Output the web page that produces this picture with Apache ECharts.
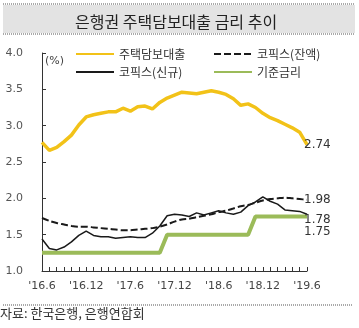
<!DOCTYPE html>
<html><head><meta charset="utf-8">
<script src="https://cdn.jsdelivr.net/npm/echarts@6/dist/echarts.min.js"></script>
<style>html,body{margin:0;padding:0;background:#fff}#c{width:359px;height:328px}</style>
</head><body><div id="c"></div>
<script>
var months = ['16.6','16.7','16.8','16.9','16.10','16.11','16.12','17.1','17.2','17.3','17.4','17.5','17.6','17.7','17.8','17.9','17.10','17.11','17.12','18.1','18.2','18.3','18.4','18.5','18.6','18.7','18.8','18.9','18.10','18.11','18.12','19.1','19.2','19.3','19.4','19.5','19.6'];
var mortgage = [2.77,2.66,2.70,2.78,2.87,3.01,3.12,3.15,3.17,3.19,3.19,3.24,3.20,3.26,3.27,3.23,3.32,3.38,3.42,3.46,3.45,3.44,3.46,3.48,3.46,3.43,3.37,3.28,3.30,3.25,3.17,3.11,3.07,3.02,2.97,2.91,2.74];
var cofixNew = [1.44,1.31,1.29,1.33,1.40,1.49,1.55,1.49,1.47,1.47,1.45,1.46,1.47,1.46,1.46,1.52,1.62,1.76,1.78,1.77,1.75,1.80,1.77,1.80,1.83,1.80,1.78,1.81,1.90,1.95,2.02,1.96,1.92,1.84,1.83,1.82,1.78];
var cofixBal = [1.73,1.69,1.66,1.64,1.62,1.61,1.61,1.60,1.59,1.58,1.57,1.56,1.56,1.57,1.58,1.59,1.61,1.64,1.68,1.71,1.72,1.74,1.76,1.78,1.81,1.83,1.86,1.89,1.91,1.94,1.97,1.99,2.00,2.01,2.00,1.99,1.98];
var baseRate = [1.25,1.25,1.25,1.25,1.25,1.25,1.25,1.25,1.25,1.25,1.25,1.25,1.25,1.25,1.25,1.25,1.25,1.50,1.50,1.50,1.50,1.50,1.50,1.50,1.50,1.50,1.50,1.50,1.50,1.75,1.75,1.75,1.75,1.75,1.75,1.75,1.75];
var yTicks = {min:1.0, max:4.0, step:0.5};
var names = ['주택담보대출','코픽스(신규)','코픽스(잔액)','기준금리'];
var titleText = '은행권 주택담보대출 금리 추이';
var sourceText = '자료: 한국은행, 은행연합회';
var unitText = '(%)';

var chart = echarts.init(document.getElementById('c'), null, {renderer:'canvas'});
var numFont = 'DejaVu Sans';
var krFont = '"Noto Sans CJK KR", sans-serif';
function endLbl(dx, dy){
  return {show:true, distance:0, offset:[dx,dy], color:'#333', fontFamily:numFont, fontSize:12,
    formatter:function(p){return p.value.toFixed(2);}};
}
var legendCommon = {orient:'vertical', top:43, itemWidth:38, itemHeight:14, itemGap:6,
  itemStyle:{opacity:0}, textStyle:{fontFamily:krFont, fontSize:12, color:'#333'}};
chart.setOption({
  animation:false,
  title:{text:titleText, left:70, top:7, textStyle:{fontFamily:krFont, fontSize:16, fontWeight:'normal', color:'#222', lineHeight:20}},
  graphic:[
    {type:'rect', z:-1, shape:{x:3,y:5,width:352,height:28}, style:{fill:'#E3E3E3'}},
    {type:'line', shape:{x1:3,y1:4,x2:355,y2:4}, style:{stroke:'#555', lineWidth:1, lineDash:[1,1]}},
    {type:'line', shape:{x1:3,y1:34,x2:355,y2:34}, style:{stroke:'#555', lineWidth:1, lineDash:[1,1]}},
    {type:'line', shape:{x1:3,y1:305,x2:353,y2:305}, style:{stroke:'#555', lineWidth:1, lineDash:[1,1]}},
    {type:'text', left:0, top:307, style:{text:sourceText, fontFamily:krFont, fontSize:13, fill:'#333'}},
    {type:'text', left:45, top:56, style:{text:unitText, fontFamily:numFont, fontSize:11, fill:'#444'}}
  ],
  legend:[
    Object.assign({data:[names[0],names[1]], left:70}, legendCommon),
    Object.assign({data:[names[2],names[3]], left:208}, legendCommon)
  ],
  grid:{left:42, right:52, top:53, bottom:57, containLabel:false},
  xAxis:{type:'category', data:months, boundaryGap:false,
    axisLine:{lineStyle:{color:'#333', width:1}},
    axisTick:{inside:true, length:4, interval:0, lineStyle:{color:'#333'}},
    axisLabel:{interval:5, margin:10, color:'#444', fontFamily:numFont, fontSize:11, formatter:function(v){return "'"+v;}}
  },
  yAxis:{type:'value', min:yTicks.min, max:yTicks.max, interval:yTicks.step,
    splitLine:{show:false},
    axisLine:{show:true, lineStyle:{color:'#333', width:1}},
    axisTick:{show:true, inside:true, length:4, lineStyle:{color:'#333'}},
    axisLabel:{margin:19, color:'#555', fontFamily:numFont, fontSize:11, formatter:function(v){return v.toFixed(1);}}
  },
  series:[
    {name:names[0], type:'line', data:mortgage, symbol:'none', lineStyle:{color:'#F2C218', width:3.5}, itemStyle:{color:'#F2C218'}, z:4, endLabel:endLbl(-3,0)},
    {name:names[1], type:'line', data:cofixNew, symbol:'none', lineStyle:{color:'#1a1a1a', width:1.5}, itemStyle:{color:'#1a1a1a'}, z:5, endLabel:endLbl(-3,6)},
    {name:names[2], type:'line', data:cofixBal, symbol:'none', smooth:0.3, lineStyle:{color:'#1a1a1a', width:2, type:[7,3]}, itemStyle:{color:'#1a1a1a'}, z:5, endLabel:endLbl(-3,0)},
    {name:names[3], type:'line', data:baseRate, symbol:'none', lineStyle:{color:'#9BBB59', width:4}, itemStyle:{color:'#9BBB59'}, z:3, endLabel:endLbl(-3,15)}
  ]
});
</script></body></html>
